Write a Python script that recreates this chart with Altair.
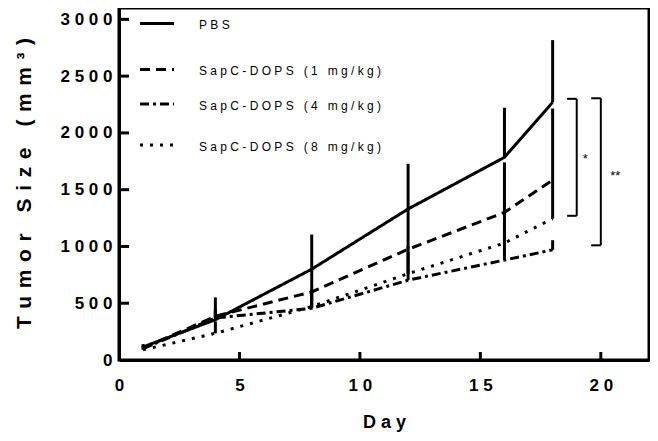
import altair as alt
import pandas as pd

# ---------------- data ----------------
days = [1, 4, 8, 12, 16, 18]
series = ["PBS", "SapC-DOPS (1 mg/kg)", "SapC-DOPS (4 mg/kg)", "SapC-DOPS (8 mg/kg)"]

pbs_mean = [115, 355, 800, 1330, 1785, 2270]
pbs_upper = [140, 551, 1105, 1728, 2222, 2817]
mg1_mean = [105, 385, 600, 975, 1300, 1585]
mg1_upper = [125, 450, 800, 1330, 1740, 2215]
mg4_mean = [100, 370, 455, 703, 880, 970]
mg4_upper = [120, 420, 600, 950, 1100, 1055]
mg8_mean = [90, 235, 470, 760, 1030, 1245]
mg8_upper = [110, 340, 620, 1000, 1300, 1585]

x_ticks = [0, 5, 10, 15, 20]
y_ticks = [0, 500, 1000, 1500, 2000, 2500, 3000]

# significance brackets (data coordinates)
bracket_x = [19.0, 20.0]
bracket_arm = [18.6, 19.6]
bracket_top = [2300, 2305]
bracket_bottom = [1270, 1010]
bracket_label = ["*", "**"]
bracket_label_x = [19.35, 20.6]
bracket_label_y = [1767, 1618]

# ---------------- build tables ----------------
means = [pbs_mean, mg1_mean, mg4_mean, mg8_mean]
uppers = [pbs_upper, mg1_upper, mg4_upper, mg8_upper]
rows = []
for s, ms, us in zip(series, means, uppers):
    for d, m, u in zip(days, ms, us):
        rows.append({"series": s, "day": d, "mean": m, "upper": u})
df = pd.DataFrame(rows)

seg = []
for bx, ba, bt, bb in zip(bracket_x, bracket_arm, bracket_top, bracket_bottom):
    seg.append({"day": ba, "x2": bx, "mean": bt, "y2": bt})
    seg.append({"day": bx, "x2": bx, "mean": bt, "y2": bb})
    seg.append({"day": ba, "x2": bx, "mean": bb, "y2": bb})
seg_df = pd.DataFrame(seg)
star_df = pd.DataFrame({"day": bracket_label_x, "mean": bracket_label_y, "t": bracket_label})
ytick_df = pd.DataFrame({"mean": y_ticks[1:]})
xtick_df = pd.DataFrame({"day": x_ticks[1:]})

# ---------------- styling ----------------
FONT = "Liberation Sans"
SP = "\u00a0"
WIDE = "\u00a0\u200a"


def spaced(t, sep=SP):
    return sep.join(t.replace(" ", SP))


dashes = [[1, 0], [10, 6], [9, 4, 3, 4], [3, 7]]
W, H = 530, 352
xs = alt.Scale(domain=[0, 22], nice=False, zero=False)
ys = alt.Scale(domain=[0, 3100], nice=False)

label_expr = f"join(split(datum.label, ''), '{SP}')"
x_title = spaced("Day")
y_title = spaced("Tumor Size (mm³)", WIDE)

x_axis = alt.Axis(values=x_ticks, format="d", labelExpr=label_expr, labelPadding=25,
                  labelBaseline="middle", labelFlush=False, labelOverlap=False,
                  title=x_title, titleX=W / 2, titleY=62, titleBaseline="middle")
y_axis = alt.Axis(values=y_ticks, format="d", labelExpr=label_expr, labelPadding=7,
                  labelFlush=False, labelOverlap=False,
                  title=y_title, titleX=-95, titleY=175, titleFontSize=21,
                  titleBaseline="middle", titleAlign="center", titleAngle=270)

X = alt.X("day:Q", scale=xs, axis=x_axis, title=x_title)
Y = alt.Y("mean:Q", scale=ys, axis=y_axis, title=y_title)

base = alt.Chart(df)
lines = base.mark_line(color="black", strokeWidth=3).encode(
    x=X, y=Y,
    strokeDash=alt.StrokeDash("series:N", scale=alt.Scale(domain=series, range=dashes), legend=None),
)
errs = base.mark_rule(color="black", strokeWidth=3).encode(x=X, y=Y, y2="upper:Q")

yt = alt.Chart(ytick_df).mark_rule(color="black", strokeWidth=3).encode(
    y=Y, x=alt.value(0), x2=alt.value(10))
xt = alt.Chart(xtick_df).mark_rule(color="black", strokeWidth=3).encode(
    x=X, y=alt.value(H), y2=alt.value(H - 8))

brackets = alt.Chart(seg_df).mark_rule(color="black", strokeWidth=2).encode(
    x=X, x2="x2:Q", y=Y, y2="y2:Q")
stars = alt.Chart(star_df).mark_text(font=FONT, fontSize=13, color="black").encode(
    x=X, y=Y, text="t:N")

layers = [lines, errs, yt, xt, brackets, stars]

leg_y = [15.5, 61.5, 96, 137]
for i, s in enumerate(series):
    ldf = pd.DataFrame({"label": [spaced(s)]})
    layers.append(alt.Chart(ldf).mark_rule(color="black", strokeWidth=3, strokeDash=dashes[i]).encode(
        x=alt.value(21), x2=alt.value(55), y=alt.value(leg_y[i])))
    layers.append(alt.Chart(ldf).mark_text(font=FONT, fontSize=12, color="black", align="left",
                                           baseline="middle").encode(
        x=alt.value(80), y=alt.value(leg_y[i] + 1.5), text="label:N"))

chart = alt.layer(*layers).properties(
    width=W, height=H,
    autosize=alt.AutoSizeParams(type="none"),
    padding={"left": 111, "top": 0, "right": 1, "bottom": 73},
    background="white",
).configure_view(stroke="black", strokeWidth=3).configure_axis(
    domainColor="black", domainWidth=3, ticks=False, tickSize=0, grid=False,
    labelFont=FONT, labelFontSize=17, labelFontWeight="bold", labelColor="black",
    titleFont=FONT, titleFontSize=18, titleFontWeight="bold", titleColor="black",
)

chart.save("out.html", embed_options={"renderer": "svg", "actions": False})
